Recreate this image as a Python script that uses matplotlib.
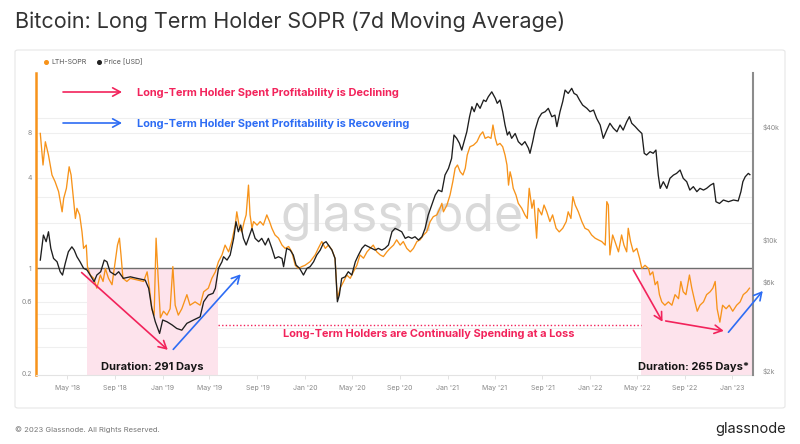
import matplotlib
matplotlib.use("Agg")
import matplotlib.pyplot as plt
import matplotlib.dates as mdates
from matplotlib.patches import FancyBboxPatch
from matplotlib.lines import Line2D
from matplotlib.ticker import FixedLocator, NullLocator
import pandas as pd

plt.rcParams['font.family'] = ['Inter', 'DejaVu Sans']

# LTH-SOPR (7d MA)
sopr_dates = [
    '2018-02-21', '2018-02-28', '2018-03-06', '2018-03-14', '2018-03-23', '2018-03-31', '2018-04-09', '2018-04-18', '2018-04-22', '2018-04-29',
    '2018-05-06', '2018-05-11', '2018-05-16', '2018-05-22', '2018-05-26', '2018-06-02', '2018-06-08', '2018-06-12', '2018-06-19', '2018-06-22',
    '2018-06-29', '2018-07-08', '2018-07-16', '2018-07-25', '2018-08-01', '2018-08-07', '2018-08-15', '2018-08-24', '2018-09-01', '2018-09-07',
    '2018-09-12', '2018-09-16', '2018-09-21', '2018-10-01', '2018-10-10', '2018-10-27', '2018-11-13', '2018-11-22', '2018-11-28', '2018-12-04',
    '2018-12-10', '2018-12-15', '2018-12-20', '2018-12-26', '2019-01-03', '2019-01-12', '2019-01-20', '2019-01-27', '2019-02-02', '2019-02-10',
    '2019-02-19', '2019-03-04', '2019-03-12', '2019-03-25', '2019-04-07', '2019-04-16', '2019-04-28', '2019-05-07', '2019-05-16', '2019-05-24',
    '2019-06-02', '2019-06-10', '2019-06-19', '2019-06-27', '2019-07-06', '2019-07-10', '2019-07-17', '2019-07-23', '2019-07-29', '2019-08-03',
    '2019-08-09', '2019-08-13', '2019-08-18', '2019-08-22', '2019-08-31', '2019-09-08', '2019-09-16', '2019-09-25', '2019-10-02', '2019-10-08',
    '2019-10-16', '2019-10-25', '2019-11-03', '2019-11-11', '2019-11-20', '2019-11-28', '2019-12-07', '2019-12-15', '2019-12-24', '2020-01-01',
    '2020-01-14', '2020-01-27', '2020-02-04', '2020-02-13', '2020-02-22', '2020-03-01', '2020-03-10', '2020-03-18', '2020-03-24', '2020-03-31',
    '2020-04-09', '2020-04-17', '2020-04-26', '2020-05-04', '2020-05-13', '2020-05-21', '2020-05-30', '2020-06-08', '2020-06-16', '2020-06-24',
    '2020-07-03', '2020-07-12', '2020-07-20', '2020-07-29', '2020-08-06', '2020-08-15', '2020-08-23', '2020-09-01', '2020-09-09', '2020-09-18',
    '2020-09-27', '2020-10-05', '2020-10-14', '2020-10-22', '2020-10-31', '2020-11-08', '2020-11-17', '2020-11-25', '2020-12-04', '2020-12-12',
    '2020-12-17', '2020-12-21', '2020-12-30', '2021-01-07', '2021-01-14', '2021-01-20', '2021-01-26', '2021-02-02', '2021-02-09', '2021-02-15',
    '2021-02-20', '2021-02-27', '2021-03-08', '2021-03-17', '2021-03-25', '2021-04-01', '2021-04-07', '2021-04-15', '2021-04-22', '2021-04-27',
    '2021-05-03', '2021-05-08', '2021-05-15', '2021-05-22', '2021-05-28', '2021-06-02', '2021-06-06', '2021-06-10', '2021-06-14', '2021-06-18',
    '2021-06-25', '2021-07-01', '2021-07-10', '2021-07-18', '2021-07-24', '2021-07-29', '2021-08-05', '2021-08-10', '2021-08-17', '2021-08-21',
    '2021-08-30', '2021-09-05', '2021-09-12', '2021-09-20', '2021-09-27', '2021-10-06', '2021-10-14', '2021-10-23', '2021-11-01', '2021-11-06',
    '2021-11-13', '2021-11-18', '2021-11-24', '2021-12-02', '2021-12-11', '2021-12-19', '2021-12-28', '2022-01-05', '2022-01-14', '2022-01-22',
    '2022-01-31', '2022-02-09', '2022-02-13', '2022-02-17', '2022-02-21', '2022-02-28', '2022-03-06', '2022-03-15', '2022-03-23', '2022-03-29',
    '2022-04-05', '2022-04-09', '2022-04-15', '2022-04-22', '2022-05-01', '2022-05-08', '2022-05-14', '2022-05-22', '2022-05-31', '2022-06-04',
    '2022-06-11', '2022-06-17', '2022-06-23', '2022-06-28', '2022-07-04', '2022-07-12', '2022-07-21', '2022-07-30', '2022-08-07', '2022-08-16',
    '2022-08-22', '2022-08-28', '2022-09-04', '2022-09-13', '2022-09-19', '2022-09-27', '2022-10-03', '2022-10-10', '2022-10-19', '2022-10-27',
    '2022-11-05', '2022-11-12', '2022-11-18', '2022-11-23', '2022-11-30', '2022-12-07', '2022-12-16', '2022-12-24', '2023-01-02', '2023-01-12',
    '2023-01-21', '2023-01-29', '2023-02-07', '2023-02-14',
]
sopr_vals = [
    7.9, 4.87, 6.95, 5.67, 4.18, 3.77, 3.24, 2.38, 2.92, 3.41,
    4.74, 4.18, 3.08, 2.15, 2.51, 2.27, 1.75, 1.36, 1.43, 1.03,
    0.905, 0.86, 0.74, 0.905, 0.82, 1.0, 0.86, 0.78, 1.11, 1.43,
    1.59, 1.23, 0.86, 0.82, 0.86, 0.84, 0.82, 0.95, 0.74, 0.54,
    0.49, 1.59, 0.9, 0.47, 0.52, 0.49, 0.54, 1.03, 0.57, 0.49,
    0.54, 0.67, 0.57, 0.60, 0.57, 0.70, 0.74, 0.86, 0.95, 1.11,
    1.23, 1.43, 1.29, 1.51, 1.94, 2.38, 1.85, 1.75, 2.05, 2.27,
    3.58, 2.27, 1.85, 2.05, 1.94, 2.05, 1.94, 2.27, 2.05, 1.85,
    1.67, 1.59, 1.43, 1.36, 1.40, 1.29, 1.05, 1.0, 1.03, 1.05,
    1.11, 1.23, 1.36, 1.51, 1.36, 1.43, 1.33, 1.17, 0.63, 0.74,
    0.82, 0.905, 0.86, 0.95, 1.05, 1.23, 1.17, 1.29, 1.36, 1.43,
    1.29, 1.23, 1.20, 1.29, 1.36, 1.43, 1.55, 1.43, 1.51, 1.36,
    1.29, 1.36, 1.51, 1.55, 1.67, 1.75, 2.05, 2.21, 2.27, 2.51,
    2.71, 2.38, 2.64, 3.08, 3.77, 4.63, 4.87, 4.39, 4.18, 4.63,
    5.67, 6.44, 6.6, 6.95, 7.7, 8.09, 7.32, 7.5, 7.32, 8.98,
    7.32, 6.6, 6.78, 6.44, 5.67, 4.87, 3.58, 4.39, 3.97, 3.41,
    3.08, 2.71, 2.51, 2.27, 2.15, 3.41, 2.51, 2.85, 1.59, 2.51,
    2.27, 2.64, 2.38, 2.05, 2.27, 1.85, 1.75, 1.85, 2.05, 2.38,
    2.15, 3.0, 2.64, 2.38, 2.05, 1.85, 1.80, 1.67, 1.59, 1.55,
    1.51, 1.43, 2.78, 2.64, 1.23, 1.67, 1.51, 1.29, 1.67, 1.43,
    1.29, 1.85, 1.51, 1.29, 1.36, 1.17, 1.0, 1.05, 1.0, 0.905,
    0.95, 0.78, 0.82, 0.67, 0.60, 0.57, 0.60, 0.57, 0.67, 0.63,
    0.82, 0.70, 0.67, 0.905, 0.74, 0.60, 0.52, 0.57, 0.60, 0.67,
    0.70, 0.74, 0.82, 0.54, 0.44, 0.57, 0.54, 0.57, 0.52, 0.57,
    0.60, 0.67, 0.70, 0.74,
]

# BTC price [USD]
price_dates = [
    '2018-02-21', '2018-03-01', '2018-03-08', '2018-03-14', '2018-03-20', '2018-03-27', '2018-04-05', '2018-04-13', '2018-04-19', '2018-04-26',
    '2018-05-04', '2018-05-13', '2018-05-19', '2018-05-26', '2018-06-03', '2018-06-12', '2018-06-21', '2018-06-29', '2018-07-09', '2018-07-16',
    '2018-07-26', '2018-08-04', '2018-08-11', '2018-08-19', '2018-09-01', '2018-09-10', '2018-09-22', '2018-10-10', '2018-10-27', '2018-11-17',
    '2018-11-26', '2018-12-04', '2018-12-13', '2018-12-24', '2019-01-01', '2019-01-12', '2019-01-25', '2019-02-06', '2019-02-19', '2019-03-04',
    '2019-03-21', '2019-04-07', '2019-04-16', '2019-04-28', '2019-05-10', '2019-05-16', '2019-05-24', '2019-06-02', '2019-06-06', '2019-06-15',
    '2019-06-23', '2019-07-02', '2019-07-08', '2019-07-14', '2019-07-20', '2019-07-27', '2019-08-03', '2019-08-09', '2019-08-18', '2019-08-26',
    '2019-09-04', '2019-09-12', '2019-09-21', '2019-09-29', '2019-10-08', '2019-10-16', '2019-10-25', '2019-11-03', '2019-11-07', '2019-11-15',
    '2019-11-24', '2019-12-02', '2019-12-09', '2019-12-18', '2019-12-28', '2020-01-06', '2020-01-14', '2020-01-23', '2020-01-31', '2020-02-09',
    '2020-02-17', '2020-02-24', '2020-03-01', '2020-03-10', '2020-03-18', '2020-03-24', '2020-03-29', '2020-04-04', '2020-04-13', '2020-04-21',
    '2020-04-30', '2020-05-09', '2020-05-17', '2020-05-26', '2020-06-03', '2020-06-12', '2020-06-20', '2020-06-29', '2020-07-07', '2020-07-16',
    '2020-07-24', '2020-08-02', '2020-08-11', '2020-08-19', '2020-08-28', '2020-09-05', '2020-09-14', '2020-09-22', '2020-10-01', '2020-10-09',
    '2020-10-18', '2020-10-27', '2020-11-04', '2020-11-12', '2020-11-21', '2020-11-30', '2020-12-08', '2020-12-17', '2020-12-25', '2021-01-03',
    '2021-01-11', '2021-01-17', '2021-01-24', '2021-01-31', '2021-02-06', '2021-02-12', '2021-02-19', '2021-02-26', '2021-03-04', '2021-03-10',
    '2021-03-17', '2021-03-25', '2021-04-03', '2021-04-09', '2021-04-15', '2021-04-24', '2021-05-03', '2021-05-08', '2021-05-15', '2021-05-22',
    '2021-05-28', '2021-06-03', '2021-06-08', '2021-06-14', '2021-06-23', '2021-07-01', '2021-07-10', '2021-07-18', '2021-07-27', '2021-07-31',
    '2021-08-07', '2021-08-13', '2021-08-22', '2021-08-30', '2021-09-08', '2021-09-16', '2021-09-25', '2021-10-03', '2021-10-08', '2021-10-16',
    '2021-10-23', '2021-10-29', '2021-11-06', '2021-11-15', '2021-11-21', '2021-11-28', '2021-12-05', '2021-12-13', '2021-12-24', '2022-01-01',
    '2022-01-10', '2022-01-18', '2022-01-27', '2022-02-04', '2022-02-13', '2022-02-21', '2022-03-02', '2022-03-11', '2022-03-19', '2022-03-27',
    '2022-04-05', '2022-04-12', '2022-04-18', '2022-04-27', '2022-05-05', '2022-05-14', '2022-05-20', '2022-05-26', '2022-06-04', '2022-06-12',
    '2022-06-19', '2022-06-25', '2022-06-30', '2022-07-08', '2022-07-17', '2022-07-25', '2022-08-03', '2022-08-11', '2022-08-20', '2022-08-28',
    '2022-09-06', '2022-09-14', '2022-09-23', '2022-10-02', '2022-10-10', '2022-10-19', '2022-10-27', '2022-11-06', '2022-11-14', '2022-11-20',
    '2022-11-29', '2022-12-09', '2022-12-22', '2023-01-04', '2023-01-16', '2023-01-23', '2023-01-28', '2023-02-03', '2023-02-11', '2023-02-15',
]
price_vals = [
    7820, 10630, 9800, 11070, 9030, 7980, 7660, 6780, 6510, 7510,
    8660, 9200, 8840, 8150, 7660, 7070, 6920, 6510, 6000, 6510,
    6780, 7820, 7660, 6780, 6510, 6780, 6250, 6370, 6250, 6120,
    5530, 4330, 3670, 3180, 3750, 3670, 3530, 3380, 3310, 3600,
    3750, 3900, 4690, 5090, 5200, 5530, 7070, 7660, 8150, 7820,
    8320, 10210, 12520, 11070, 12020, 10210, 9410, 10210, 11540, 10210,
    9800, 10210, 9410, 10210, 9030, 7980, 8150, 7980, 7210, 9030,
    8840, 8320, 7360, 7070, 6510, 7070, 7210, 7660, 8320, 8840,
    9600, 9800, 9410, 8840, 7980, 4690, 5090, 6250, 6370, 6780,
    6510, 7660, 8320, 9030, 9410, 9200, 9030, 8840, 9030, 8840,
    9030, 9410, 11070, 11540, 11300, 11070, 10210, 10410, 10210, 10410,
    10000, 10410, 11540, 13590, 15360, 17370, 18460, 18100, 22190, 24080,
    27230, 36260, 34820, 32770, 30150, 33430, 37750, 45390, 51320, 48270,
    53500, 50300, 55700, 54700, 57950, 61600, 56900, 53500, 55700, 48270,
    41000, 36260, 37750, 34820, 36950, 33430, 32060, 33430, 30850, 28980,
    33430, 38520, 44460, 47300, 48270, 50300, 45390, 46290, 40190, 48270,
    54700, 62950, 60400, 64300, 60400, 59290, 55700, 52360, 50300, 48270,
    49250, 44460, 41000, 34820, 38520, 41880, 39370, 37750, 41000, 38520,
    42660, 45390, 41880, 40190, 38520, 36950, 28980, 28380, 29560, 28980,
    30150, 22190, 18850, 20450, 18850, 21330, 22190, 22650, 23600, 21330,
    20450, 18460, 19250, 18100, 18850, 18460, 18850, 19620, 20050, 16000,
    15660, 16340, 16000, 16340, 16150, 18100, 20450, 21730, 22650, 22300,
]

sopr_ticks = [0.2, 0.6, 1, 4, 8]
sopr_tick_labels = ['0.2', '0.6', '1', '4', '8']
price_ticks = [2000, 6000, 10000, 40000]
price_tick_labels = ['$2k', '$6k', '$10k', '$40k']

# periods of LTH spending at a loss (shaded)
loss_periods = [('2018-06-22', '2019-05-22'), ('2022-05-11', '2023-02-23')]

ORANGE = '#f7931a'
RED = '#f2235b'
BLUE = '#2d6cf4'
PINK = '#fde3ec'

W, H = 800, 444


def fx(x):
    return x / W


def fy(y):
    return 1 - y / H


def dnum(s):
    return mdates.date2num(pd.Timestamp(s))


fig = plt.figure(figsize=(8, 4.44), dpi=100)
fig.patch.set_facecolor('white')

card = FancyBboxPatch((fx(15), fy(408)), fx(770), (408 - 50) / H,
                      boxstyle='round,pad=0,rounding_size=0.004',
                      transform=fig.transFigure, fc='white', ec='#e6e6e6', lw=0.8, zorder=-1)
fig.add_artist(card)

ax = fig.add_axes([fx(36), fy(375), fx(753) - fx(36), fy(73) - fy(375)])
ax2 = ax.twinx()

# SOPR side
ax.set_yscale('log')
ax.set_ylim(0.196, 19.9)
ax.set_xlim(pd.Timestamp('2018-02-10'), pd.Timestamp('2023-02-23'))

for g in [0.3, 0.4, 0.5, 0.6, 0.8, 2, 3, 4, 6, 8, 10]:
    ax.axhline(g, color='#efefef', lw=0.8, zorder=0.5)

for start, end in loss_periods:
    ax.fill_between(pd.to_datetime([start, end]), 0.196, 1, color=PINK, lw=0, zorder=1)

ax.text(0.511, 0.52, 'glassnode', transform=ax.transAxes, ha='center', va='center',
        fontsize=36, color='#d9d9d9', zorder=0.8)

ax.axhline(1, color='#6e6e6e', lw=1.0, zorder=2)
ax.plot(pd.to_datetime(sopr_dates), sopr_vals, color=ORANGE, lw=0.95, zorder=3)

# price side
ax2.set_yscale('log')
ax2.set_ylim(1910, 77600)
ax2.plot(pd.to_datetime(price_dates), price_vals, color='#1e1e1e', lw=0.95, zorder=3)

# axes styling
ax.xaxis.set_major_locator(mdates.MonthLocator(bymonth=[1, 5, 9]))
ax.xaxis.set_major_formatter(mdates.DateFormatter("%b '%y"))
ax.tick_params(axis='x', labelsize=5, labelcolor='#888888', color='#dddddd', length=3, width=0.6, pad=4)

ax.yaxis.set_major_locator(FixedLocator(sopr_ticks))
ax.yaxis.set_minor_locator(NullLocator())
ax.set_yticklabels(sopr_tick_labels)
ax.tick_params(axis='y', labelsize=5, labelcolor='#888888', length=0, pad=3)

ax2.yaxis.set_major_locator(FixedLocator(price_ticks))
ax2.yaxis.set_minor_locator(NullLocator())
ax2.set_yticklabels(price_tick_labels)
ax2.tick_params(axis='y', labelsize=5, labelcolor='#888888', length=0, pad=7)

ax.spines['top'].set_visible(False)
ax.spines['right'].set_visible(False)
ax.spines['bottom'].set_color('#e3e3e3')
ax.spines['left'].set_color(ORANGE)
ax.spines['left'].set_linewidth(1.8)
for s in ['top', 'left', 'bottom']:
    ax2.spines[s].set_visible(False)
ax2.spines['right'].set_color('#8c8c8c')
ax2.spines['right'].set_linewidth(1.5)

# annotations on the chart
arrow_kw = dict(arrowstyle='->,head_length=0.55,head_width=0.3', lw=1.2, shrinkA=0, shrinkB=0)
chart_arrows = [
    (('2018-06-07', 0.94), ('2019-01-14', 0.288), RED),
    (('2019-01-28', 0.29), ('2019-07-20', 0.915), BLUE),
    (('2022-04-22', 0.977), ('2022-07-06', 0.443), RED),
    (('2022-07-14', 0.448), ('2022-12-10', 0.385), RED),
    (('2022-12-22', 0.377), ('2023-03-20', 0.709), BLUE),
]
for (d0, v0), (d1, v1), col in chart_arrows:
    ax2.annotate('', xy=(dnum(d1), v1), xytext=(dnum(d0), v0),
                 xycoords=ax.transData, textcoords=ax.transData,
                 arrowprops=dict(color=col, **arrow_kw), annotation_clip=False, zorder=5)

ax2.plot([dnum(loss_periods[0][1]), dnum(loss_periods[1][0])], [0.42, 0.42],
         transform=ax.transData, color=RED, lw=1.0, ls=(0, (1, 1.6)), zorder=4)

# top explanatory arrows
for yy, col, txt in [(92, RED, 'Long-Term Holder Spent Profitability is Declining'),
                     (123, BLUE, 'Long-Term Holder Spent Profitability is Recovering')]:
    ax2.annotate('', xy=(fx(122), fy(yy)), xytext=(fx(63), fy(yy)),
                 xycoords='figure fraction', textcoords='figure fraction',
                 arrowprops=dict(color=col, **arrow_kw), annotation_clip=False)
    fig.text(fx(137), fy(yy + 1), txt, color=col, fontsize=7.9, fontweight='bold', va='center', ha='left')

fig.text(fx(429), fy(334), 'Long-Term Holders are Continually Spending at a Loss', color=RED,
         fontsize=7.9, fontweight='bold', ha='center', va='center')
fig.text(fx(152), fy(367), 'Duration: 291 Days', color='#151515', fontsize=8.0,
         fontweight='bold', ha='center', va='center')
fig.text(fx(749), fy(367), 'Duration: 265 Days*', color='#151515', fontsize=8.0,
         fontweight='bold', ha='right', va='center')

# title, legend, footer
fig.text(fx(15), fy(22), 'Bitcoin: Long Term Holder SOPR (7d Moving Average)', fontsize=15.5,
         color='#333333', ha='left', va='center')
fig.add_artist(Line2D([fx(46)], [fy(62)], marker='o', ms=2.6, color=ORANGE, transform=fig.transFigure))
fig.text(fx(51), fy(62), 'LTH-SOPR', fontsize=5, color='#555555', va='center')
fig.add_artist(Line2D([fx(99)], [fy(62)], marker='o', ms=2.6, color='#222222', transform=fig.transFigure))
fig.text(fx(104), fy(62), 'Price [USD]', fontsize=5, color='#555555', va='center')

fig.text(fx(15), fy(430), '\u00a9 2023 Glassnode. All Rights Reserved.', fontsize=5.5, color='#777777', va='center')
fig.text(fx(786), fy(429), 'glassnode', fontsize=10.5, color='#222222', ha='right', va='center')

fig.savefig('out.png', dpi=100)
